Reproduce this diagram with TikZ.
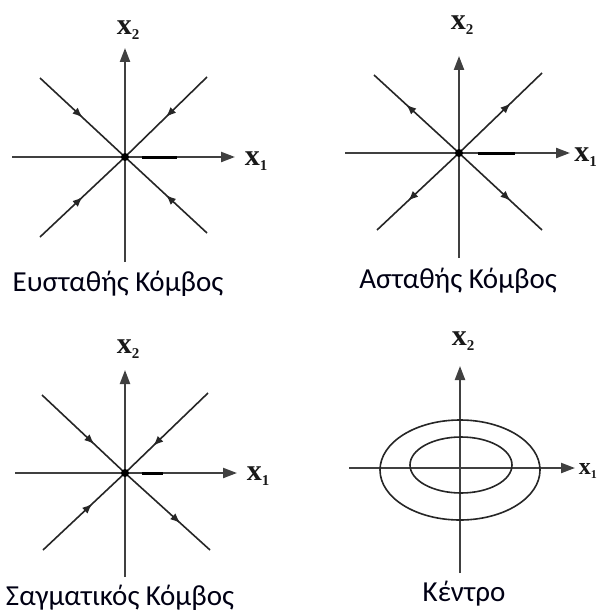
\documentclass[tikz,border=0pt]{standalone}
\usepackage{fontspec}
\setmainfont{Carlito}
\newfontfamily\lblfont{Liberation Serif}
\usetikzlibrary{arrows.meta,decorations.markings}
\tikzset{
  axisline/.style={draw=black!75, line width=2.2pt, -{Triangle[length=14pt,width=10pt]}},
  axisplain/.style={draw=black!75, line width=2.2pt},
  traj/.style={draw=black!85, line width=1.6pt},
  midarrow/.style={postaction=decorate, decoration={markings,
     mark=at position #1 with {\arrow{Latex[length=10pt,width=8pt]}}}},
  boldseg/.style={draw=black, line width=3pt},
  caption/.style={font=\fontsize{29}{32}\selectfont, text=black!92!blue},
  axlabel/.style={font=\lblfont\bfseries\fontsize{30}{32}\selectfont, inner sep=0pt, text=black!90},
  cdot/.style={circle, fill=black, inner sep=0pt, minimum size=8pt}
}
\newcommand{\xone}{x\raisebox{-5pt}{\fontsize{15}{16}\selectfont 1}}
\newcommand{\xtwo}{x\raisebox{-5pt}{\fontsize{15}{16}\selectfont 2}}
\begin{document}
\begin{tikzpicture}[x=1pt,y=-1pt]
\useasboundingbox (0,0) rectangle (597,615);
\clip (0,0) rectangle (597,615);
\fill[white] (0,0) rectangle (597,615);

% ---------- Panel 1: stable node ----------
\coordinate (O1) at (125,157);
\coordinate (A1) at (40,78);
\coordinate (B1) at (207,77);
\coordinate (C1) at (40,237);
\coordinate (D1) at (207,233);
\coordinate (L1) at (12,157);
\coordinate (R1) at (235,157);
\coordinate (T1) at (125,48);
\coordinate (U1) at (125,262);
\draw[axisplain] (U1) -- (O1);
\draw[axisline] (O1) -- (T1);
\draw[axisplain] (L1) -- (O1);
\draw[axisline] (O1) -- (R1);
\draw[boldseg] (142,157) -- (177,157);
\draw[traj, midarrow=0.5] (A1) -- (O1);
\draw[traj, midarrow=0.5] (B1) -- (O1);
\draw[traj, midarrow=0.5] (C1) -- (O1);
\draw[traj, midarrow=0.5] (D1) -- (O1);
\node[cdot] (c1) at (O1) {};
\node[axlabel] (x21) at (128,30) {\xtwo};
\node[axlabel] (x11) at (256,161) {\xone};
\node[caption] (t1) at (118,284) {Ευσταθής Κόμβος};

% ---------- Panel 2: unstable node ----------
\coordinate (O2) at (459,153);
\coordinate (A2) at (374,75);
\coordinate (B2) at (542,73);
\coordinate (C2) at (377,230);
\coordinate (D2) at (542,230);
\coordinate (L2) at (345,153);
\coordinate (R2) at (570,153);
\coordinate (T2) at (459,56);
\coordinate (U2) at (459,258);
\draw[axisplain] (U2) -- (O2);
\draw[axisline] (O2) -- (T2);
\draw[axisplain] (L2) -- (O2);
\draw[axisline] (O2) -- (R2);
\draw[boldseg] (478,153) -- (515,153);
\draw[traj, midarrow=0.62] (O2) -- (A2);
\draw[traj, midarrow=0.62] (O2) -- (B2);
\draw[traj, midarrow=0.62] (O2) -- (C2);
\draw[traj, midarrow=0.62] (O2) -- (D2);
\node[cdot] (c2) at (O2) {};
\node[axlabel] (x22) at (462,25) {\xtwo};
\node[axlabel, anchor=east] (x12) at (597,157) {\xone};
\node[caption] (t2) at (458,281) {Ασταθής Κόμβος};

% ---------- Panel 3: saddle ----------
\coordinate (O3) at (125,473);
\coordinate (A3) at (42,395);
\coordinate (B3) at (208,393);
\coordinate (C3) at (43,550);
\coordinate (D3) at (210,550);
\coordinate (L3) at (15,473);
\coordinate (R3) at (237,473);
\coordinate (T3) at (125,370);
\coordinate (U3) at (125,577);
\draw[axisplain] (U3) -- (O3);
\draw[axisline] (O3) -- (T3);
\draw[axisplain] (L3) -- (O3);
\draw[axisline] (O3) -- (R3);
\draw[boldseg] (142,473) -- (163,473);
\draw[traj, midarrow=0.63] (A3) -- (O3);
\draw[traj, midarrow=0.66] (B3) -- (O3);
\draw[traj, midarrow=0.6] (C3) -- (O3);
\draw[traj, midarrow=0.65] (O3) -- (D3);
\node[cdot] (c3) at (O3) {};
\node[axlabel] (x23) at (128,349) {\xtwo};
\node[axlabel] (x13) at (258,476) {\xone};
\node[caption] (t3) at (120,598) {Σαγματικός Κόμβος};

% ---------- Panel 4: centre ----------
\coordinate (O4) at (460,468);
\coordinate (L4) at (349,468);
\coordinate (R4) at (575,468);
\coordinate (T4) at (460,366);
\coordinate (U4) at (460,573);
\draw[axisplain] (U4) -- (O4);
\draw[axisline] (O4) -- (T4);
\draw[axisplain] (L4) -- (O4);
\draw[axisline] (O4) -- (R4);
\draw[traj] (460,470) ellipse [x radius=80, y radius=50];
\draw[traj] (461,465) ellipse [x radius=51, y radius=28];
\node[axlabel] (x24) at (463,341) {\xtwo};
\node[axlabel, anchor=east, font=\lblfont\bfseries\fontsize{24}{26}\selectfont] (x14) at (597,471) {x\raisebox{-4pt}{\fontsize{12}{13}\selectfont 1}};
\node[caption] (t4) at (464,594) {Κέντρο};
\end{tikzpicture}
\end{document}
